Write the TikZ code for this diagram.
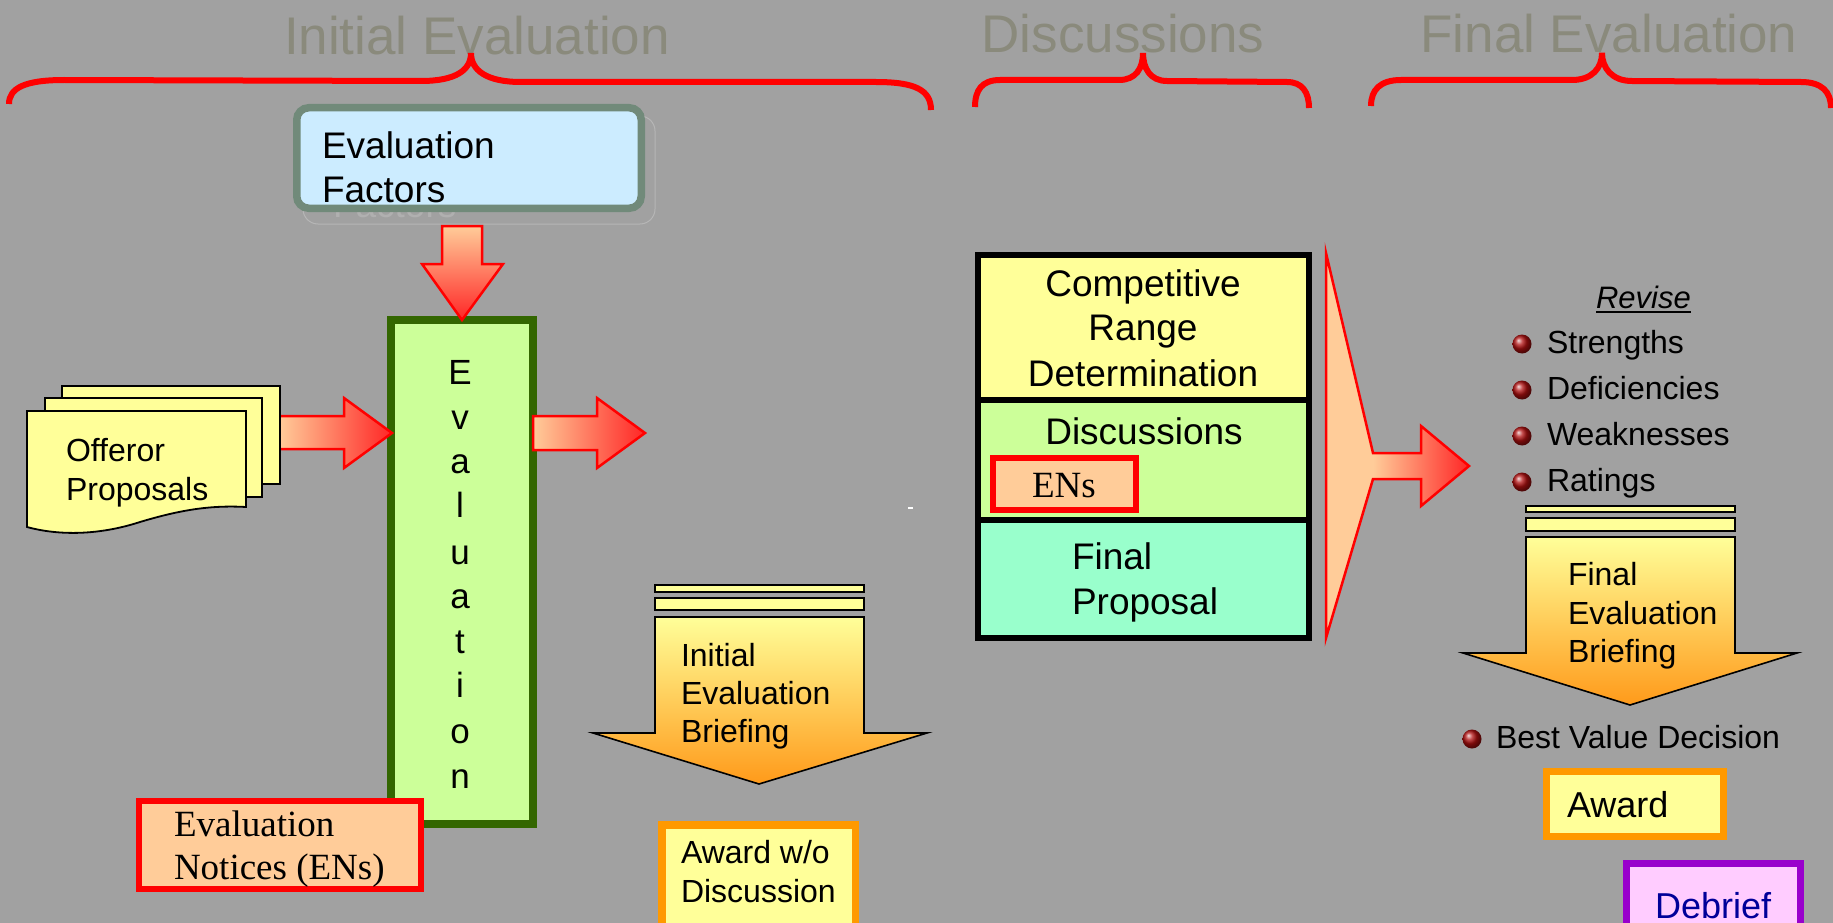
\documentclass[tikz,border=0pt]{standalone}
\usepackage{fontspec}
\setmainfont{Liberation Sans}
\newfontfamily\timesfont{Liberation Serif}
\usetikzlibrary{calc}
\newcommand\setfs[1]{\fontsize{#1}{#1}\selectfont}

\definecolor{bg}{HTML}{A1A1A1}
\definecolor{titlegray}{HTML}{8A8A7C}
\definecolor{peach}{HTML}{FFCC99}
\definecolor{hotred}{HTML}{FF2626}
\definecolor{pureRed}{HTML}{FF0000}
\definecolor{paleyellow}{HTML}{FFFF99}
\definecolor{deeporange}{HTML}{FF9A1A}
\definecolor{awardorange}{HTML}{FF9900}
\definecolor{palegreen}{HTML}{CCFF99}
\definecolor{forest}{HTML}{336600}
\definecolor{aqua}{HTML}{99FFCC}
\definecolor{skyblue}{HTML}{CCECFF}
\definecolor{sage}{HTML}{718A7A}
\definecolor{ghostline}{HTML}{B6B6B6}
\definecolor{ghosttext}{HTML}{B0B0B0}
\definecolor{pinkfill}{HTML}{FFCCFF}
\definecolor{violet}{HTML}{9900CC}
\definecolor{navytext}{HTML}{000099}
\definecolor{beadred}{HTML}{B01010}

\begin{document}
\begin{tikzpicture}[x=1pt,y=-1pt,
  txt/.style={anchor=base west, inner sep=0pt, outer sep=0pt},
  ctxt/.style={anchor=base, inner sep=0pt, outer sep=0pt},
  heading/.style={ctxt, text=titlegray, font=\setfs{53}},
  bracket/.style={draw=pureRed, line width=6pt},
  redarrow/.style={draw=pureRed, line width=2.5pt, line join=miter},
  briefarrow/.style={draw=black, line width=1.6pt, top color=paleyellow, bottom color=deeporange},
  briefbar/.style={draw=black, line width=1.6pt, fill=paleyellow},
  page/.style={draw=black, line width=1.8pt, fill=paleyellow},
  bullet/.style={circle, inner sep=0pt, minimum size=19pt, shading=ball, ball color=beadred},
  body/.style={font=\setfs{32}},
  bigbody/.style={font=\setfs{37}},
  notefont/.style={font=\timesfont\setfs{37}}
]
\useasboundingbox (0,0) rectangle (1833,923);
\fill[bg] (0,0) rectangle (1833,923);

% ---- phase headings and brackets ----
\node[heading] (hInit)  at (477,55) {Initial Evaluation};
\node[heading] (hDisc)  at (1123,53) {Discussions};
\node[heading] (hFinal) at (1609,53) {Final Evaluation};

\draw[bracket] (9,104) .. controls (9,88) and (25,80) .. (64,80) -- (421,81)
  .. controls (456,81) and (471,70) .. (471,53)
  .. controls (471,70) and (486,82) .. (521,82) -- (876,82)
  .. controls (915,82) and (931,90) .. (931,110);
\draw[bracket] (975,107) .. controls (975,90) and (982,80) .. (1000,80) -- (1119,80)
  .. controls (1136,80) and (1143,68) .. (1143,53)
  .. controls (1143,68) and (1150,81) .. (1167,81) -- (1287,82)
  .. controls (1302,82) and (1309,92) .. (1309,108);
\draw[bracket] (1371,106) .. controls (1371,90) and (1380,80) .. (1401,80) -- (1572,80)
  .. controls (1592,80) and (1602,68) .. (1602,53)
  .. controls (1602,68) and (1612,81) .. (1632,81) -- (1801,82)
  .. controls (1822,82) and (1831,92) .. (1831,108);

% ---- evaluation factors box (with its faint offset copy behind) ----
\draw[draw=ghostline, line width=1pt, rounded corners=15pt] (303,116) rectangle (655,224);
\node[txt, text=ghosttext, font=\setfs{37}] (factorsGhost) at (333,217) {Factors};
\draw[draw=sage, fill=skyblue, line width=7.5pt, rounded corners=12pt] (296.75,107.75) rectangle (641.25,208.25);
\node[txt, bigbody] (ef1) at (322,158) {Evaluation};
\node[txt, bigbody] (ef2) at (322,202) {Factors};

% ---- evaluation column ----
\draw[draw=forest, fill=palegreen, line width=8pt] (391,320) rectangle (533,824);
\foreach \ch/\yy [count=\k] in {E/384, v/429, a/473, l/517, u/564, a/608, t/653, i/697, o/743, n/788}
  \node[ctxt, font=\setfs{35}] (evl\k) at (460,\yy) {\ch};

% arrow from factors down into the column
\draw[redarrow, top color=peach, bottom color=hotred]
  (442,226) -- (482,226) -- (482,264) -- (503,264) -- (462,320) -- (422,264) -- (442,264) -- cycle;

% ---- offeror proposals (stacked documents) ----
\draw[redarrow, left color=peach, right color=hotred]
  (279,416) -- (344,416) -- (344,398) -- (392,433) -- (344,468) -- (344,449) -- (279,449) -- cycle;
\draw[page] (62,386) rectangle (280,484);
\draw[page] (45,398) rectangle (262,497);
\draw[page] (27,411) -- (246,411) -- (246,507)
  .. controls (210,505) and (180,510) .. (140,522)
  .. controls (100,535) and (60,536) .. (27,527) -- cycle;
\node[txt, body] (off1) at (66,461) {Offeror};
\node[txt, body] (off2) at (66,500) {Proposals};

% arrow out of the column
\draw[redarrow, left color=peach, right color=hotred]
  (533,416) -- (597,416) -- (597,398) -- (645,433) -- (597,468) -- (597,450) -- (533,450) -- cycle;

% ---- evaluation notices ----
\draw[draw=pureRed, fill=peach, line width=6pt] (139,801) rectangle (421,889);
\node[txt, notefont] (en1) at (174,836) {Evaluation};
\node[txt, notefont] (en2) at (174,879) {Notices (ENs)};

% ---- initial evaluation briefing ----
\draw[briefbar] (655,585) rectangle (864,592);
\draw[briefbar] (655,598) rectangle (864,610);
\draw[briefarrow] (655,617) -- (864,617) -- (864,733) -- (927,733) -- (759,784) -- (593,733) -- (655,733) -- cycle;
\node[txt, body] (ib1) at (681,666) {Initial};
\node[txt, body] (ib2) at (681,704) {Evaluation};
\node[txt, body] (ib3) at (681,742) {Briefing};

\draw[draw=awardorange, fill=paleyellow, line width=7.5pt] (661.75,824.75) rectangle (855.25,935);
\node[txt, body] (aw1) at (681,863) {Award w/o};
\node[txt, body] (aw2) at (681,902) {Discussion};

\fill[white] (908,507) rectangle (913,509);

% ---- discussions stack ----
\fill[paleyellow] (978,255) rectangle (1309,400);
\fill[palegreen] (978,400) rectangle (1309,520);
\fill[aqua] (978,520) rectangle (1309,638);
\draw[line width=6pt] (978,400) -- (1309,400);
\draw[line width=6pt] (978,520) -- (1309,520);
\draw[line width=6pt] (978,255) rectangle (1309,638);
\node[ctxt, bigbody] (cr1) at (1143,296) {Competitive};
\node[ctxt, bigbody] (cr2) at (1143,340) {Range};
\node[ctxt, bigbody] (cr3) at (1143,386) {Determination};
\node[ctxt, bigbody] (disc) at (1144,444) {Discussions};
\draw[draw=pureRed, fill=peach, line width=6pt] (993,458) rectangle (1136,510);
\node[txt, notefont] (ens) at (1032,497) {ENs};
\node[txt, bigbody] (fp1) at (1072,569) {Final};
\node[txt, bigbody] (fp2) at (1072,614) {Proposal};

% funnel arrow
\fill[peach] (1326,253) -- (1373,453) -- (1373,479) -- (1326,638) -- cycle;
\shade[left color=peach, right color=hotred]
  (1373,453) -- (1421,453) -- (1421,426) -- (1469,466) -- (1421,506) -- (1421,479) -- (1373,479) -- cycle;
\draw[redarrow] (1326,253) -- (1373,453) -- (1421,453) -- (1421,426) -- (1469,466)
  -- (1421,506) -- (1421,479) -- (1373,479) -- (1326,638) -- cycle;

% ---- final evaluation ----
\node[txt, font=\itshape\setfs{31}] (revise) at (1596,308) {Revise};
\draw[line width=1.5pt] ($(revise.base west)+(0,4)$) -- ($(revise.base east)+(0,4)$);
\foreach \word/\yy/\by [count=\k] in {Strengths/353/344, Deficiencies/399/390, Weaknesses/445/436, Ratings/491/482} {
  \node[bullet] (rb\k) at (1522,\by) {};
  \node[txt, body] (rv\k) at (1547,\yy) {\word};
}

\draw[briefbar] (1526,506) rectangle (1735,512);
\draw[briefbar] (1526,518) rectangle (1735,531);
\draw[briefarrow] (1526,537) -- (1735,537) -- (1735,653) -- (1797,653) -- (1630,705) -- (1463,653) -- (1526,653) -- cycle;
\node[txt, body] (fb1) at (1568,585) {Final};
\node[txt, body] (fb2) at (1568,624) {Evaluation};
\node[txt, body] (fb3) at (1568,662) {Briefing};

\node[bullet] (bvb) at (1472,739) {};
\node[txt, body] (bvd) at (1496,748) {Best Value Decision};

\draw[draw=awardorange, fill=paleyellow, line width=7pt] (1546.5,771.5) rectangle (1723.5,836.5);
\node[txt, font=\setfs{36}] (award) at (1567,817) {Award};

\draw[draw=violet, fill=pinkfill, line width=7pt] (1626.5,863.5) rectangle (1800.5,935);
\node[txt, font=\setfs{36}, text=navytext] (debrief) at (1655,918) {Debrief};

\end{tikzpicture}
\end{document}
